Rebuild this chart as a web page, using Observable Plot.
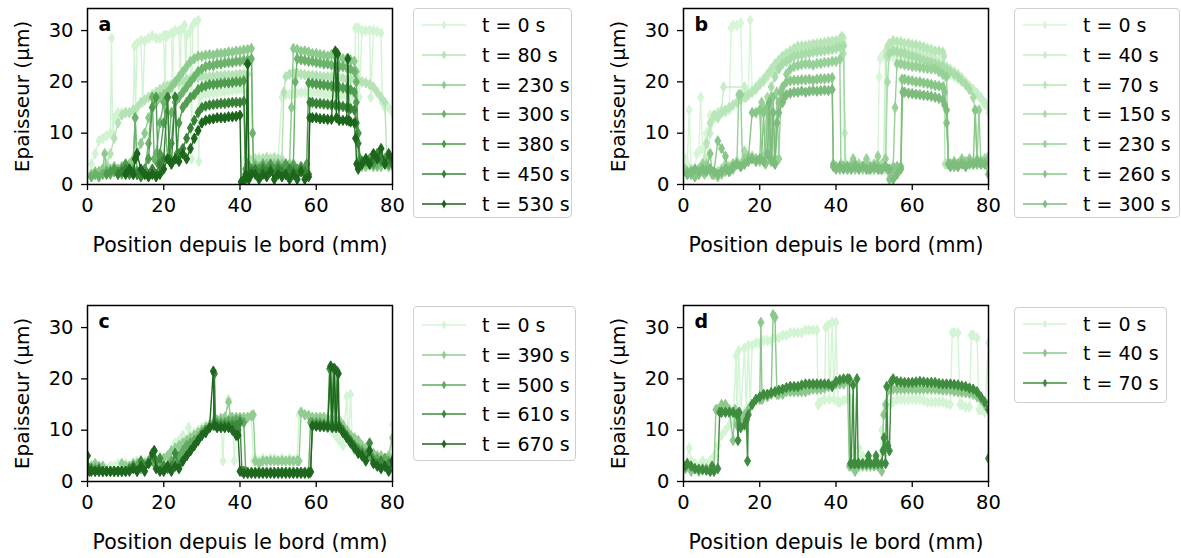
<!DOCTYPE html>
<html><head><meta charset="utf-8">
<script src="https://cdn.jsdelivr.net/npm/d3@7"></script>
<script src="https://cdn.jsdelivr.net/npm/@observablehq/plot@0.6"></script>
<style>
body{margin:0;background:#fff;font-family:"DejaVu Sans",sans-serif;}
#root{position:relative;width:1181px;height:558px;overflow:hidden;background:#fff;}
.panel{position:absolute;}
.legend{position:absolute;border:1.5px solid #cfcfcf;border-radius:4px;background:#fff;box-sizing:border-box;font-size:19px;color:#000;}
.row{position:absolute;left:0;height:30px;display:flex;align-items:center;white-space:nowrap;}
</style></head><body><div id="root"></div>
<script>
// ---------- axes / labels ----------
const xTicks = [0, 20, 40, 60, 80];
const yTicks = [0, 10, 20, 30];
const xLabel = "Position depuis le bord (mm)";
const yLabel = "Epaisseur (µm)";

// ---------- panel a ----------
const aLabels = ["t = 0 s","t = 80 s","t = 230 s","t = 300 s","t = 380 s","t = 450 s","t = 530 s"];
const aColors = ["#d2f4d2","#b5e3b5","#8dca8d","#6cb36c","#4f9c4f","#388238","#1c661c"];
const a0 = [[1,4],[2,6],[3,8.5],[4,9],[5,9.5],[6,10],[6.3,28.5],[6.6,10],[7,13],[8,14],[9,14],[10,14],[11,14],[12,14.5],[12.3,27],[12.6,14.5],[13,27.5],[14,28],[14.5,16],[15,28],[16,28.5],[17,29],[18,28.5],[19,28.5],[20,29],[20.3,17],[20.6,29],[21,29],[22,29.5],[22.3,18],[22.6,29.5],[23,30],[24,30],[24.3,19],[24.6,30],[25,30.5],[25.5,31],[25.8,19],[26,29],[27,30],[27.3,5],[27.6,31],[28,31.5],[29,32],[29.2,4.5],[29.5,17],[30,17.5],[31,17.6],[32,17.7],[33,17.8],[34,17.9],[35,18],[36,18],[37,18.2],[38,18.3],[39,18.4],[40,18.5],[41,18.4],[41.5,5],[42,5],[43,4.5],[44,5],[45,5.2],[46,5],[47,5.3],[48,5],[49,5.2],[50,5],[51,17],[52,17.5],[53,17.6],[54,17.8],[55,17.8],[56,17.9],[57,18],[58,18],[59,17.9],[60,17.8],[61,17.8],[62,17.7],[63,17.6],[64,17.5],[65,17.5],[66,17.4],[67,17.3],[68,17.2],[69,17],[70,17],[70.3,30.5],[71,30.5],[71.3,17],[72,30],[73,30],[74,30],[74.3,17],[75,30],[76,29.8],[77,29.5],[77.3,16],[78,15],[79,15],[80,14]];
const a80 = [[1,1.5],[2,2],[3,2.5],[4,3],[5,4],[6,6],[7,9],[8,12],[9,13.5],[10,14],[11,14],[12,14.5],[13,15],[14,16],[15,16.5],[16,17],[17,17.5],[18,18],[19,18.5],[20,19],[21,19.2],[22,19.5],[23,19.8],[24,20],[25,20.2],[26,20.5],[27,20.6],[28,20.8],[29,20.9],[30,21],[31,21],[32,21],[33,21.1],[34,21.2],[35,21.2],[36,21.3],[37,21.3],[38,21.3],[39,21.4],[40,21.5],[41,21.5],[42,21.5],[42.5,5],[43,4.5],[44,5],[45,4.8],[46,5],[47,5.2],[48,5],[49,5.2],[50,5],[51,5],[51.5,18],[52,21],[53,21.5],[54,21.8],[55,21.7],[56,21.5],[57,21.4],[58,21.3],[59,21.3],[60,21.2],[61,21.1],[62,21],[63,21],[64,21],[65,20.9],[66,20.8],[67,20.7],[68,20.5],[69,20.5],[70,20.5],[71,20.3],[72,20],[73,19.8],[74,19.5],[75,19],[76,18],[77,17],[78,16],[78.5,5],[79,4],[80,4]];
const a230 = [[1,2],[2,2.5],[3,2.5],[4,3],[4.5,6],[5,3],[6,3],[7,3.5],[8,3],[9,3.5],[10,3],[11,4],[12,5],[12.5,13],[13,6],[14,8],[15,10],[16,13],[17,15],[18,16],[19,17],[20,17.5],[21,18],[22,19],[23,20],[24,21],[25,22],[26,23],[27,24],[28,24.5],[29,25],[30,25],[31,25.2],[32,25.3],[33,25.2],[34,25.5],[35,25.5],[36,25.6],[37,25.8],[38,25.8],[39,26],[40,26],[41,26.2],[42,26.3],[43,26.5],[43.5,3],[44,4],[45,3.5],[46,3],[47,4],[48,3.5],[49,4],[50,3.5],[51,4],[52,3.5],[53,4],[53.5,15],[54,26.5],[55,26.3],[56,26],[57,26],[58,25.8],[59,25.5],[60,25.5],[61,25.3],[62,25.2],[63,25],[64,25.3],[65,25],[66,24.8],[67,24.5],[68,24.5],[69,24.3],[70,24],[70.5,22],[71,4],[72,3.5],[73,3.5],[74,3.8],[75,3.5],[76,3.5],[77,3.5],[78,4],[79,3.5],[80,3.5]];
const a300 = [[1,1.5],[2,2],[3,1.5],[4,2],[5,2.5],[6,2],[7,2.5],[8,2],[9,2],[10,2.5],[11,3],[12,3],[12.5,13],[13,2],[14,2],[15,3],[16,8],[17,17],[17.5,5],[18,6],[19,12],[20,16],[21,5],[22,14],[23,16],[24,17],[25,18],[26,19],[27,20],[28,21],[29,22],[30,22.5],[31,23],[32,23.2],[33,23.2],[34,23.5],[35,23.5],[36,23.7],[37,23.8],[38,23.8],[39,24],[40,24],[41,24.2],[42,24.3],[43,24.5],[43.3,10],[43.6,3],[44,3.5],[45,3],[46,4],[47,3],[48,3.5],[49,3],[50,4],[51,3],[52,3.5],[53,3],[54,4],[54.5,20],[55,24.5],[56,24.3],[57,24.2],[58,24],[59,24],[60,23.8],[61,23.7],[62,23.5],[63,23.5],[64,23.3],[65,23.2],[66,23],[67,23],[68,22.8],[69,22.5],[70,22],[70.5,20],[71,10],[71.5,4],[72,4],[73,4.5],[74,4],[75,5],[76,4],[77,4.5],[78,4],[79,4],[80,4]];
const a380 = [[5,2],[6,2.5],[7,3],[8,2.5],[9,3],[10,4],[11,3],[12,2],[13,2.5],[14,2],[15,3],[16,5],[17,15],[18,17],[18.5,4],[19,6],[20,12],[21,17],[21.5,5],[22,8],[23,17],[23.5,6],[24,12],[25,15],[26,16],[27,17],[28,17.5],[29,18.5],[30,19],[31,19.2],[32,19.5],[33,19.5],[34,19.6],[35,19.7],[36,19.8],[37,19.8],[38,19.9],[39,20],[40,20],[41,20.2],[41.5,3],[42,4],[43,3],[44,2.5],[45,3],[46,3.5],[47,3],[48,4],[49,3],[50,3.5],[51,3],[52,4],[53,3],[54,3.5],[55,3],[56,3.5],[57,3],[57.5,4],[58,19.8],[59,19.7],[60,19.6],[61,19.5],[62,19.4],[63,19.3],[64,19.2],[65,19],[66,19],[67,18.8],[68,18.7],[69,18.5],[70,18],[70.5,16],[71,10],[71.5,5],[72,4],[73,4.5],[74,5],[75,4],[76,5],[77,4.5],[78,5],[79,4],[80,4.5]];
const a450 = [[8,2],[9,2.5],[10,3],[11,2],[12,2.5],[13,2],[14,1.5],[15,2],[16,2],[17,3],[18,2],[19,4],[20,5],[21,17],[21.5,5],[22,4],[23,17],[23.5,5],[24,6],[25,7],[26,9],[27,11],[28,12.5],[29,14],[30,15],[31,15.3],[32,15.5],[33,15.6],[34,15.7],[35,15.8],[36,15.8],[37,15.9],[38,16],[39,16],[40,16],[41,16.2],[41.5,1],[42,23.5],[42.3,2],[43,2.5],[44,3],[45,2],[46,3],[47,2.5],[48,3],[49,2],[50,3],[51,2.5],[52,2],[53,3],[54,2.5],[55,2],[56,3],[57,2.5],[58,2],[58.3,16],[59,16],[60,15.8],[61,15.8],[62,15.7],[63,15.6],[64,15.5],[65,15.5],[66,15.3],[67,15.2],[68,15],[69,14.8],[70,14.5],[70.5,12],[71,8],[71.5,4],[72,4.5],[73,5],[74,4],[75,5],[76,6],[77,5],[78,4.5],[79,5],[80,4]];
const a530 = [[10,2],[11,3],[12,2],[12.5,5],[13,6],[14,3],[15,2],[16,1.5],[17,2],[18,1.5],[19,2],[20,3],[21,5],[22,4],[23,5],[24,4.5],[25,6],[26,5],[27,7],[28,9],[29,10.5],[30,12],[31,12.5],[32,12.7],[33,12.8],[34,13],[35,13],[36,13],[37,13.2],[38,13.2],[39,13.3],[40,13.5],[40.3,0.5],[41,1],[41.5,2],[42,23.5],[42.3,1],[43,2],[44,2],[45,1],[46,2],[47,1.5],[48,2.5],[49,1],[50,2],[51,1.5],[52,2],[53,1],[54,2],[55,1],[56,2.5],[57,1],[58,1.5],[58.3,13],[59,13],[60,13],[61,12.8],[62,12.8],[63,12.7],[64,12.7],[65,26],[65.3,13],[65.6,25.5],[66,12.5],[67,12.5],[68,12.5],[68.3,24.5],[68.6,12.4],[69,12.2],[70,12],[70.3,9],[70.6,4],[71,3],[72,4],[73,5],[74,4],[75,6],[76,5],[77,7],[78,4],[79,6],[80,5]];

// ---------- panel b ----------
const bLabels = ["t = 0 s","t = 40 s","t = 70 s","t = 150 s","t = 230 s","t = 260 s","t = 300 s"];
const bColors = ["#d6f6d6","#c8eec8","#b8e6b8","#a8dca8","#98d198","#89c789","#7cbc7c"];
const b0 = [[0.5,5],[1,4],[1.5,14.5],[2,3],[3,3],[3.5,6],[4,6.5],[4.5,17],[5,7],[6,10],[7,13.5],[8,13.5],[9,14],[10,14],[11,14],[12,14.5],[12.5,30.5],[13,31],[14,31],[15,31.5],[15.5,17],[16,18],[17,18],[17.5,32],[18,18.5],[19,19],[20,20],[21,20.5],[22,21],[23,22],[24,22.5],[25,23.5],[26,24],[27,24.5],[28,25],[29,25.5],[30,25.8],[31,25.9],[32,26],[33,26.1],[34,26.3],[35,26.4],[36,26.5],[37,26.6],[38,26.8],[39,26.9],[40,27],[41,27.2],[42,27.5],[42.5,4],[43,3.5],[44,4],[45,3],[46,4],[47,3.5],[48,4],[49,3.5],[50,4],[51,4],[51.3,21],[51.6,24.5],[52,25],[53,25],[54,25],[55,24.9],[56,24.8],[57,24.6],[58,24.5],[59,24.3],[60,24.2],[61,24.1],[62,24],[63,23.8],[64,23.5],[65,23.2],[66,23],[67,22.8],[68,22.5],[69,22],[70,21.5],[71,21],[72,20.5],[73,20],[74,19.5],[75,19],[76,18.5],[77,17.5],[78,16.5],[79,15.5],[80,14]];
const b40 = [[0.5,3],[1,2.5],[2,2],[3,2.5],[4,2],[5,2.5],[6,5],[7,10],[8,13],[9,14],[10,14.5],[10.5,19],[16,19],[16.5,17],[17,17.5],[18,18],[19,18.5],[20,19.5],[21,20],[22,21],[23,22],[24,23],[25,24],[26,25],[27,25.5],[28,26],[29,26.5],[30,27],[31,27],[32,27],[33,27.2],[34,27.3],[35,27.4],[36,27.5],[37,27.6],[38,27.8],[39,27.9],[40,28],[41,28.2],[42,28.5],[42.3,10],[42.6,4],[43,3],[44,3.5],[45,3],[46,3.5],[47,3],[48,3.5],[49,3],[50,3.5],[51,3],[52,3.5],[52.5,3],[53,26],[54,26.5],[55,26.4],[56,26.3],[57,26.2],[58,26],[59,25.9],[60,25.8],[61,25.6],[62,25.5],[63,25.3],[64,25],[65,24.8],[66,24.5],[67,24],[68,23.5],[69,23],[70,22.5],[71,22],[72,21.5],[73,20.8],[74,20],[75,19.2],[76,18.5],[77,17.8],[78,17],[79,16],[80,15]];
const b70 = [[1,2],[2,3],[3,2.5],[4,3],[5,4],[6,8],[7,12],[8,13.5],[9,13],[10,14],[11,14.5],[12,15],[13,15.5],[14,16],[15,16.5],[16,17],[17,17.5],[18,18],[19,18.8],[20,19.5],[21,20.5],[22,21.5],[23,22.5],[24,23.5],[25,24.2],[26,25],[27,25.5],[28,26],[29,26.4],[30,26.8],[31,26.9],[32,27],[33,27.1],[34,27.3],[35,27.4],[36,27.5],[37,27.6],[38,27.8],[39,27.9],[40,28],[41,28.3],[41.5,28.8],[42,25.5],[42.5,4],[43,3.5],[44,3],[45,3.2],[46,3.5],[47,3.3],[48,3],[49,3.2],[50,3.5],[51,3.2],[52,3],[53,3],[53.3,25],[53.6,27],[54,27.5],[55,28],[56,27.8],[57,27.8],[58,27.5],[59,27.5],[60,27.3],[61,27.2],[62,27],[63,26.8],[64,26.5],[65,26.3],[66,26],[67,26],[68,25.8],[68.3,25],[68.6,4],[69,4],[70,3.5],[71,4],[72,3.5],[73,4],[74,3.5],[75,4],[76,4.5],[77,4],[78,4.5],[79,5],[80,4]];
const b150 = [[0.5,3],[1,2],[2,2.5],[3,1.5],[4,2],[5,3.5],[6,4],[7,3],[8,2],[9,2.5],[10,3],[11,4],[12,3.5],[13,4],[14,4.5],[15,4],[16,6.5],[17,5],[18,5.5],[19,5],[20,5],[21,5.5],[22,17],[22.5,6],[23,19],[24,21],[25,22.5],[26,23.5],[27,24],[28,24.5],[29,25],[30,25.2],[31,25.3],[32,25.5],[33,25.6],[34,25.8],[35,25.9],[36,26],[37,26.1],[38,26.2],[39,26.3],[40,26.5],[41,26.8],[41.5,25],[42,27],[42.3,3.5],[43,3],[44,4],[45,3.5],[46,4],[47,3.5],[48,4.5],[49,3.5],[50,4],[51,3.5],[52,4],[53,3.5],[53.5,20],[54,25.5],[55,26],[56,25.8],[57,25.6],[58,25.5],[59,25.2],[60,25],[61,24.8],[62,24.5],[63,24.2],[64,24],[65,23.8],[66,23.5],[67,23.2],[68,23],[69,22.5],[70,22],[71,21.5],[72,21],[73,20.2],[74,19.5],[75,18.5],[76,17],[76.5,14.5],[77,5],[78,4.5],[79,5],[80,5.5]];
const b230 = [[0.5,2.5],[1,2],[2,2.5],[3,2],[4,3],[5,4],[5.5,2],[6,3.5],[7,3],[8,2],[9,1.5],[10,2],[11,2.5],[12,3],[13,4],[14,4],[14.5,17.5],[15,17.5],[15.5,4],[16,5],[17,5.5],[18,5],[19,5],[20,4.5],[20.5,16],[21,15],[22,14],[22.5,5],[23,17],[23.5,4.5],[24,5],[24.5,18],[25,5],[25.5,16],[26,17],[27,21.5],[28,22.5],[29,23],[30,23.2],[31,23.4],[32,23.5],[33,23.5],[34,23.3],[35,23.6],[36,23.6],[37,23.8],[38,23.8],[39,24],[40,24],[41,24.3],[41.3,4],[42,3.5],[43,3],[44,3.5],[44.5,5],[45,3],[46,3.5],[47,3],[48,5],[48.5,3],[49,3],[50,3.5],[51,5.5],[51.5,3],[52,3],[53,5],[53.5,3],[54,3],[55,3.5],[55.5,15],[56,23.5],[57,23.5],[58,23.3],[59,23.2],[60,23],[61,23],[62,22.8],[63,22.7],[64,22.6],[65,22.5],[66,22.5],[67,22],[68,21.5],[69,21],[69.5,4],[70,4],[71,4.5],[72,4],[73,5],[74,4.5],[75,5],[76,4],[77,4.5],[77.5,14.5],[78,4],[79,4.5],[80,5]];
const b260 = [[1,2.5],[2,2],[3,1.5],[4,2],[5,2.5],[6,3],[7,6],[7.5,2],[8,2.5],[9,8.5],[10,7],[11,5.5],[11.5,3],[12,2.5],[13,3],[14,4],[15,3.5],[16,4],[17,5],[18,14],[19,14],[20,14.5],[20.5,5],[21,14],[21.5,4],[22,15],[23,4.5],[23.5,17],[24,4],[25,16],[25.5,18],[26,19],[27,20],[28,20.2],[29,20.3],[30,20.3],[31,20.4],[32,20.4],[33,20.5],[34,20.3],[35,20.5],[36,20.6],[37,20.6],[38,20.7],[39,20.8],[39.3,4],[40,3.5],[41,3],[42,3.5],[43,3],[44,3.5],[45,4],[46,3],[47,3.5],[48,3],[49,3.5],[50,3],[51,3.5],[52,3],[53,3.5],[54,1],[55,3],[56,3.5],[57,3.5],[57.3,20.5],[58,20.5],[59,20.3],[60,20.2],[61,20],[62,20],[63,19.8],[64,19.7],[65,19.5],[66,19.3],[67,19.2],[68,19],[68.5,18],[69,12],[69.5,4],[70,4],[71,3.5],[72,4],[73,4.5],[74,4],[75,4.5],[76,4],[76.5,14.5],[77,4],[78,4.5],[79,4],[80,4.5]];
const b300 = [[1,2],[2,2.5],[3,3],[4,2.5],[5,3],[6,2.5],[7,3],[8,2.5],[9,2],[10,2.5],[11,3],[12,2.5],[13,3.5],[14,4],[15,3.5],[16,4],[17,4.5],[18,5],[19,4.5],[20,5],[21,4.5],[22,6],[22.5,16],[23,5],[23.5,14],[24,4],[24.5,12],[25,14],[26,16],[26.5,17],[27,17.5],[28,17.8],[29,18],[30,18],[31,18.2],[32,18],[33,18.2],[34,18.3],[35,18.2],[36,18.3],[37,18.4],[38,18.3],[39,18.5],[39.3,3.5],[40,3],[41,3.5],[42,3],[43,3.5],[44,3],[45,3.5],[46,3],[47,3.5],[48,3],[49,3],[50,3.5],[51,3],[52,3],[53,3.5],[54,3],[55,1],[56,2],[57,3],[57.5,18],[58,18],[59,17.8],[60,17.7],[61,17.6],[62,17.5],[63,17.4],[64,17.3],[65,17.2],[66,17],[67,16.8],[68,16.5],[68.5,15.5],[69,14.5],[69.5,4],[70,3.5],[71,4],[72,3.5],[73,4],[74,3.5],[75,4],[76,4],[77,4.5],[78,4],[79,4],[80,2]];

// ---------- panel c ----------
const cLabels = ["t = 0 s","t = 390 s","t = 500 s","t = 610 s","t = 670 s"];
const cColors = ["#d3f5d3","#92cc92","#62aa62","#3e8b3e","#1f661f"];
const c0 = [[0,2],[1,2],[2,2.5],[3,2],[4,3],[5,2.5],[6,3],[7,3],[8,3.5],[9,3],[10,3.5],[11,3],[12,3.5],[13,4],[14,3.5],[15,4],[16,4],[17,4.5],[18,4],[19,5],[20,4.5],[21,5],[22,6],[23,7.5],[24,8],[24.5,5],[25,9],[26,8],[26.5,10.5],[27,9],[28,9.5],[29,10],[30,10.5],[31,11],[32,11],[33,11.5],[34,12],[35,12],[35.5,4],[36,12],[37,16],[37.5,12.5],[38,12],[38.5,4],[39,12],[40,12.5],[41,12],[42,12.5],[43,12.5],[43.5,4],[44,4.5],[45,4],[46,4.5],[47,4],[48,4.5],[49,4.5],[50,4],[51,4.5],[52,4],[53,4.5],[54,4],[55,4.5],[55.5,13],[56,13.5],[57,13],[58,13],[59,12.5],[60,12],[61,11.5],[62,11],[63,10.5],[64,10],[65,9],[66,8],[67,7],[68,16.5],[68.5,8],[69,17],[69.5,7],[70,6],[71,5.5],[72,5],[73,5],[74,5],[75,4.5],[76,4.5],[77,4.5],[78,4.5],[79,4.5],[80,11]];
const c390 = [[0,3],[1,3],[2,3.5],[3,3],[4,3],[5,2],[6,2],[7,2],[8,2],[9,3.5],[10,3],[11,3],[12,3.5],[13,3.5],[14,4],[15,3.5],[16,3.5],[17,4],[18,4],[19,4],[20,4.5],[21,5],[22,6],[23,6.5],[24,7],[25,7.5],[26,8],[27,8.5],[28,9],[29,9.5],[30,10],[31,10.5],[32,11],[33,11.5],[34,12],[35,12.3],[36,12.5],[37,15.5],[37.5,12.5],[38,12.5],[39,12.5],[40,12.5],[41,12.5],[42,12.5],[43,12.8],[43.5,13],[44,4],[45,3.5],[46,4],[47,4],[48,4],[49,4],[50,4],[51,4],[52,4],[53,4],[54,4],[55,4],[55.5,4],[56,13.5],[57,13],[58,12.8],[59,12.5],[60,12.5],[61,12.5],[62,12.5],[63,12.3],[64,12.2],[65,12],[66,12],[67,11],[68,10],[69,9],[70,8.5],[71,8],[72,7],[73,6.5],[74,6],[75,5.5],[76,5],[77,5],[78,4.5],[79,5],[80,8.5]];
const c500 = [[0,3],[1,2.5],[2,2.5],[3,2],[4,2],[5,2],[6,2],[7,2],[8,2],[9,2],[10,2],[11,2.5],[12,3],[13,3],[14,2.5],[15,3],[16,4],[17,4],[18,3],[19,2.5],[20,3],[21,3],[22,4],[23,4.5],[24,5],[25,6],[26,7],[27,7.5],[28,8],[29,8.5],[30,9.5],[31,10],[32,10.5],[33,11],[34,11.5],[35,11.5],[36,11.5],[37,11.8],[38,11.8],[39,12],[40,12],[41,11.5],[41.5,2],[42,1.8],[43,1.8],[44,1.8],[45,1.8],[46,1.8],[47,1.8],[48,1.8],[49,1.8],[50,1.8],[51,1.8],[52,1.8],[53,1.8],[54,1.8],[55,1.8],[56,1.8],[57,1.8],[58,1.8],[58.5,11.5],[59,11.5],[60,11.5],[61,11.5],[62,11.3],[63,11.3],[64,11.2],[65,11.2],[66,11],[67,10],[68,9],[69,8],[70,7],[71,6.5],[72,6],[73,5.5],[74,5],[75,4.5],[76,4.5],[77,4],[78,4.5],[79,4],[80,4]];
const c610 = [[0,2.5],[1,2.5],[2,2],[3,2.5],[4,2],[5,2],[6,2],[7,2],[8,2],[9,2],[10,2],[11,2.5],[12,3],[13,2],[14,4],[15,3],[16,3.5],[17,5],[17.5,6],[18,4],[19,4.5],[20,3],[21,2.5],[22,3],[23,5.5],[24,3],[25,4],[26,5],[27,6],[28,7],[29,8],[30,9],[31,10],[32,10.5],[33,11],[33.3,21],[33.6,11],[34,11],[35,11],[36,11],[37,11],[38,11],[39,11],[39.5,10],[40,11.5],[40.5,2],[41,2],[42,1.8],[43,1.8],[44,1.8],[45,1.8],[46,1.8],[47,1.8],[48,1.8],[49,1.8],[50,1.8],[51,1.8],[52,1.8],[53,1.8],[54,1.8],[55,1.8],[56,1.8],[57,1.8],[58,1.8],[58.5,2],[59,11],[60,11],[61,11],[62,11],[63,11],[63.5,22],[64,11],[64.5,22],[65,11],[65.5,21.5],[66,11],[67,10],[68,9],[69,8],[70,7],[71,6],[72,5.5],[73,5],[74,7.5],[75,4],[76,3.5],[77,4],[78,3],[79,3.5],[80,3]];
const c670 = [[0,5],[0.5,2],[1,2],[2,2],[3,2],[4,2],[5,2],[6,2],[7,2],[8,2],[9,2],[10,2],[11,2],[12,2.5],[13,2],[14,3],[15,2],[16,3.5],[17,5.5],[17.5,6],[18,2.5],[19,2],[20,2],[21,3],[22,2],[23,3],[24,2.5],[25,4],[26,5],[27,6],[28,7],[29,8],[30,9],[31,9.5],[32,10.5],[33,21.5],[33.3,11],[34,10.5],[35,10.5],[36,10.5],[37,10.5],[38,10],[39,9],[39.5,9],[40,2],[41,1.6],[42,1.6],[43,1.6],[44,1.6],[45,1.6],[46,1.6],[47,1.6],[48,1.6],[49,1.6],[50,1.6],[51,1.6],[52,1.6],[53,1.6],[54,1.6],[55,1.6],[56,1.6],[57,1.6],[58,1.6],[58.5,1.8],[59,10.8],[60,10.8],[61,10.7],[62,10.7],[63,10.6],[63.8,22.5],[64.2,10.5],[64.8,22],[65.2,10.5],[65.8,21],[66,10.5],[67,9.5],[68,8.5],[69,7.5],[70,6.5],[71,5.5],[72,5],[73,4],[74,6],[75,3.5],[76,3],[77,2.5],[78,3],[79,2],[80,4]];

// ---------- panel d ----------
const dLabels = ["t = 0 s","t = 40 s","t = 70 s"];
const dColors = ["#d3f5d3","#8cc88c","#3f8c3f"];
const d0 = [[0.5,3],[1.5,6.5],[2,4],[3,3.5],[4,3],[5,4],[6,3.5],[7,4],[8,5],[9,7],[10,9],[11,10],[12,11],[13,12],[13.8,24.5],[14,12],[14.5,25.5],[15,13],[16,26],[16.5,14],[17,26.5],[17.5,15],[18,26.5],[19,27],[20,27],[21,27.5],[22,27.5],[23,27.5],[24,28],[25,28],[26,28.5],[27,28.5],[28,29],[29,29],[30,29],[31,29],[32,29.5],[33,29.5],[34,29.5],[35,29.5],[35.3,15],[36,15.5],[37,16],[37.3,30],[38,30.5],[38.3,16],[39,31],[39.5,16],[40,31],[40.5,15.5],[41,15.5],[42,15.8],[43,16],[44,16],[45,5],[46,6.5],[47,5],[48,4],[49,4],[50,3.5],[51,3],[51.5,2.5],[52,10],[53,14.5],[54,15],[55,15.5],[56,16],[57,16],[58,16],[59,16],[60,16],[61,16],[62,16],[63,15.8],[64,15.5],[65,15.5],[66,15.5],[67,15.5],[68,15.5],[69,15.2],[70,15],[70.5,29],[71,29],[72,29],[72.5,15],[73,15],[74,14.5],[75,14.5],[75.5,28.5],[76,28.5],[77,28],[77.5,14],[78,14],[79,13.5],[80,27]];
const d40 = [[0.5,2.5],[1,3],[2,2],[3,2.5],[4,2],[5,2.5],[6,2.5],[7,2],[8,2.5],[8.5,14],[9,14],[10,15],[10.5,14],[11,15],[12,14],[13,8],[13.5,14],[14,11],[15,12],[16,13],[17,14],[18,15],[19,16],[20,16],[20.3,31],[20.6,16],[21,16.5],[22,16.5],[23,17],[23.5,32.5],[24,32],[24.5,17],[25,17],[26,17],[27,17.5],[28,17.5],[29,17.5],[30,17.5],[31,17.5],[32,17.5],[33,17.8],[34,18],[35,18],[36,18],[37,18.2],[38,18.5],[39,18.7],[40,19],[41,19],[42,19],[43,19.5],[43.5,3],[44,3],[45,2],[46,3],[47,3],[48,3],[49,3],[50,3],[51,3],[52,2],[52.5,13],[53,15],[54,18],[55,18],[56,18],[57,18],[58,18],[59,18],[60,18],[61,18],[62,18],[63,18],[64,18],[65,18],[66,18],[67,17.9],[68,17.8],[69,17.8],[70,17.8],[71,17.6],[72,17.5],[73,17.4],[74,17.3],[75,17.2],[76,17],[77,16.5],[78,16],[79,15],[80,14]];
const d70 = [[0.5,3],[1,3.5],[2,3],[3,2.5],[4,2.4],[5,2.3],[6,2.2],[7,2],[7.5,3],[8,2],[9,2.5],[9.5,13.5],[10,13.5],[11,13.5],[12,13.5],[13,13.5],[14,13],[14.3,8],[14.6,13.5],[15,10.5],[16,11],[16.5,12],[16.8,4],[17,13],[18,15],[19,16],[20,16.5],[21,17],[22,17],[23,17.3],[24,17.5],[25,17.8],[26,18],[27,18.3],[28,18.5],[29,18.5],[30,18.5],[31,18.8],[32,19],[33,19],[34,19],[35,19],[36,19],[37,19],[38,19],[39,18.5],[40,19.5],[41,19.8],[42,20],[43,20],[43.5,20],[43.8,3.5],[44,3.5],[44.5,18.8],[44.8,3.5],[45,3.5],[45.5,20],[45.8,3.5],[46,3.5],[47,3.5],[48,3.5],[48.5,5],[49,3.5],[50,3.5],[50.5,5],[51,3.5],[52,3.5],[52.3,6],[52.6,8.5],[53,3.5],[53.3,18.5],[53.6,7],[54,6],[54.5,19.5],[55,20],[56,19.5],[57,19.4],[58,19.3],[59,19.3],[60,19.3],[61,19.4],[62,19.5],[63,19.4],[64,19.3],[65,19.3],[66,19.3],[67,19.1],[68,19],[69,19],[70,19],[71,18.9],[72,18.8],[73,18.6],[74,18.5],[75,18.2],[76,18],[77,17.5],[78,16.5],[79,15.5],[80,14],[80,4.5]];

// ---------- drawing ----------
const thinDiamond = {
  draw(ctx, size) {
    const r = Math.sqrt(size / Math.PI);
    const h = r * 1.3, w = r * 0.75;
    ctx.moveTo(0, -h); ctx.lineTo(w, 0); ctx.lineTo(0, h); ctx.lineTo(-w, 0); ctx.closePath();
  }
};
const FONT = "DejaVu Sans, sans-serif";
const root = document.getElementById("root");

function panel({series, colors, labels, letter, left, top, legend}) {
  const marks = [];
  series.forEach((s, i) => {
    const d = s.map(([x, y]) => ({x, y}));
    marks.push(Plot.line(d, {x: "x", y: "y", stroke: colors[i], strokeWidth: 1.4, clip: true}));
    marks.push(Plot.dot(d, {x: "x", y: "y", fill: colors[i], stroke: colors[i], strokeWidth: 1, symbol: thinDiamond, r: 4, clip: true}));
  });
  const chart = Plot.plot({
    width: 400, height: 260,
    marginLeft: 87, marginRight: 8, marginTop: 8, marginBottom: 76,
    x: {domain: [0, 80]},
    y: {domain: [0, 34.3]},
    style: {fontFamily: FONT, fontSize: "19px", color: "black", background: "transparent", overflow: "visible"},
    marks: [
      ...marks,
      Plot.frame({stroke: "black", strokeWidth: 1.5}),
      Plot.axisX({ticks: xTicks, tickSize: 6, tickPadding: 8, tickFormat: d => String(d), label: null, fontSize: 19.5, strokeWidth: 1.3}),
      Plot.axisY({ticks: yTicks, tickSize: 6, tickPadding: 8, tickFormat: d => String(d), label: null, fontSize: 19.5, strokeWidth: 1.3}),
      Plot.text([xLabel], {text: d => d, frameAnchor: "bottom", lineAnchor: "middle", textAnchor: "middle", dy: 61, fontSize: 20.5, fill: "black"}),
      Plot.text([yLabel], {text: d => d, frameAnchor: "left", lineAnchor: "middle", textAnchor: "middle", rotate: -90, dx: -65, fontSize: 20, fill: "black"}),
      Plot.text([letter], {text: d => d, frameAnchor: "top-left", lineAnchor: "middle", textAnchor: "start", dx: 11, dy: 16, fontSize: 19, fontWeight: "bold", fill: "black"})
    ]
  });
  const wrap = document.createElement("div");
  wrap.className = "panel";
  wrap.style.left = left + "px"; wrap.style.top = top + "px";
  wrap.appendChild(chart);
  root.appendChild(wrap);

  // legend
  const lg = document.createElement("div");
  lg.className = "legend";
  Object.assign(lg.style, {left: legend.left + "px", top: legend.top + "px", width: legend.w + "px", height: legend.h + "px"});
  labels.forEach((lab, i) => {
    const row = document.createElement("div");
    row.className = "row";
    row.style.top = (legend.first + i * 29.8 - 15) + "px";
    row.innerHTML = `<svg width="60" height="14" style="margin-left:8px"><line x1="0" x2="44" y1="7" y2="7" stroke="${colors[i]}" stroke-width="1.4"/><path d="M22,2.5 L24.4,7 L22,11.5 L19.6,7 Z" fill="${colors[i]}"/></svg><span>${lab}</span>`;
    row.querySelector("span").style.marginLeft = (legend.textX - 8 - 60) + "px";
    lg.appendChild(row);
  });
  root.appendChild(lg);
}

panel({series: [a0, a80, a230, a300, a380, a450, a530], colors: aColors, labels: aLabels, letter: "a", left: 0, top: 0,
  legend: {left: 413, top: 8, w: 159, h: 210, first: 16, textX: 68}});
panel({series: [b0, b40, b70, b150, b230, b260, b300], colors: bColors, labels: bLabels, letter: "b", left: 596, top: 0,
  legend: {left: 1014, top: 8, w: 166, h: 210, first: 16, textX: 68}});
panel({series: [c0, c390, c500, c610, c670], colors: cColors, labels: cLabels, letter: "c", left: 0, top: 297,
  legend: {left: 413, top: 306, w: 163, h: 155, first: 18, textX: 68}});
panel({series: [d0, d40, d70], colors: dColors, labels: dLabels, letter: "d", left: 596, top: 297,
  legend: {left: 1014, top: 307, w: 153, h: 96, first: 15.5, textX: 68}});
</script>
</body></html>
